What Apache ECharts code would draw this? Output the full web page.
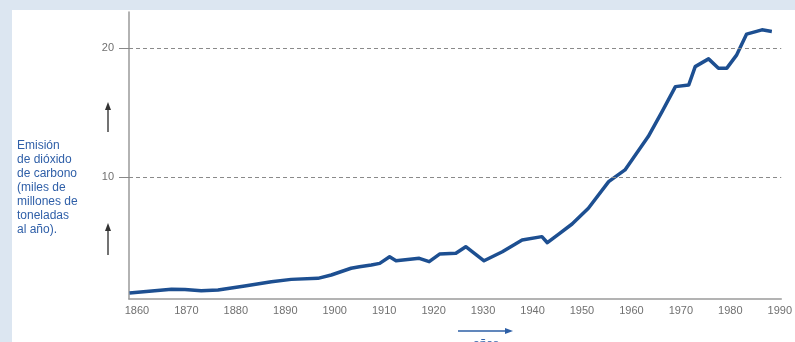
<!DOCTYPE html>
<html>
<head>
<meta charset="utf-8">
<style>
  html, body { margin: 0; padding: 0; background: #dce6f1; }
  #main { width: 795px; height: 342px; }
</style>
<script src="https://cdn.jsdelivr.net/npm/echarts@6/dist/echarts.min.js"></script>
</head>
<body>
<div id="main"></div>
<script>
// data
var years = [1858.5, 1867, 1869.7, 1873, 1876.4, 1881.8, 1887.2, 1891.2, 1896.6, 1899.3,
  1903.3, 1905, 1907.4, 1909.1, 1911.1, 1912.4, 1917.1, 1919.1, 1921.2, 1924.5,
  1926.5, 1930.2, 1933.9, 1937.9, 1941.9, 1943, 1945.3, 1948, 1951.3, 1955.4,
  1958.7, 1963.4, 1966.2, 1968.9, 1971.6, 1972.9, 1975.6, 1977.6, 1979.3, 1981.3,
  1983.3, 1986.4, 1988.4];
var emissions = [1.03, 1.32, 1.30, 1.21, 1.26, 1.57, 1.91, 2.09, 2.17, 2.43,
  2.95, 3.07, 3.2, 3.33, 3.84, 3.53, 3.72, 3.46, 4.05, 4.11,
  4.62, 3.53, 4.23, 5.14, 5.40, 4.93, 5.6, 6.38, 7.6, 9.66,
  10.57, 13.15, 15.09, 17.02, 17.15, 18.57, 19.17, 18.45, 18.45, 19.48,
  21.09, 21.42, 21.29];
var yearTicks = [1860, 1870, 1880, 1890, 1900, 1910, 1920, 1930, 1940, 1950, 1960, 1970, 1980, 1990];
var valueTicks = [10, 20];
var yTitle = ["Emisión", "de dióxido", "de carbono", "(miles de", "millones de", "toneladas", "al año)."];
var xTitle = "años";

var chart = echarts.init(document.getElementById("main"));

var points = years.map(function (y, i) { return [y, emissions[i]]; });

var option = {
  backgroundColor: "#dce6f1",
  animation: false,
  grid: { left: 129, right: 12, top: 12, bottom: 43 },
  xAxis: {
    type: "value",
    min: 1858.4,
    max: 1990.3,
    axisLine: { lineStyle: { color: "#9a9a9a", width: 1.5 } },
    axisTick: { show: false },
    splitLine: { show: false },
    axisLabel: {
      customValues: yearTicks,
      formatter: function (v) { return String(v); },
      color: "#707070",
      fontSize: 11,
      fontFamily: "Arial",
      margin: 6
    }
  },
  yAxis: {
    type: "value",
    min: 0.57,
    max: 22.8,
    axisLine: { show: true, lineStyle: { color: "#9a9a9a", width: 1.5 } },
    axisTick: { show: true, customValues: valueTicks, length: 10, lineStyle: { color: "#888" } },
    splitLine: { show: false },
    axisLabel: {
      customValues: valueTicks,
      formatter: function (v) { return String(v); },
      color: "#707070",
      fontSize: 11,
      fontFamily: "Arial",
      margin: 15
    }
  },
  graphic: [
    { type: "rect", z: -10, shape: { x: 12, y: 10, width: 800, height: 340 }, style: { fill: "#ffffff" } },
    {
      type: "text", left: 17, top: 139,
      style: { text: yTitle.join("\n"), font: "12px Arial", fill: "#2f5fa8", lineHeight: 13.9 }
    },
    // y arrows
    { type: "line", shape: { x1: 108, y1: 132, x2: 108, y2: 108 }, style: { stroke: "#444", lineWidth: 1.5 } },
    { type: "polygon", shape: { points: [[105, 110], [111, 110], [108, 102]] }, style: { fill: "#333" } },
    { type: "line", shape: { x1: 108, y1: 255, x2: 108, y2: 230 }, style: { stroke: "#444", lineWidth: 1.5 } },
    { type: "polygon", shape: { points: [[105, 231], [111, 231], [108, 223]] }, style: { fill: "#333" } },
    // x arrow
    { type: "line", shape: { x1: 458, y1: 331, x2: 506, y2: 331 }, style: { stroke: "#2d5fa6", lineWidth: 1.5 } },
    { type: "polygon", shape: { points: [[505, 328], [505, 334], [513, 331]] }, style: { fill: "#2d5fa6" } },
    { type: "text", left: 473, top: 339, style: { text: xTitle, font: "12px Arial", fill: "#2f5fa8" } }
  ],
  series: [
    {
      type: "line",
      data: points,
      showSymbol: false,
      smooth: false,
      lineStyle: { color: "#1d4f91", width: 3.5, join: "round" },
      markLine: {
        silent: true,
        symbol: "none",
        label: { show: false },
        lineStyle: { color: "#8a8a8a", type: [4, 3], width: 1 },
        data: valueTicks.map(function (v) { return { yAxis: v }; })
      },
      z: 3
    }
  ]
};

chart.setOption(option);
</script>
</body>
</html>
